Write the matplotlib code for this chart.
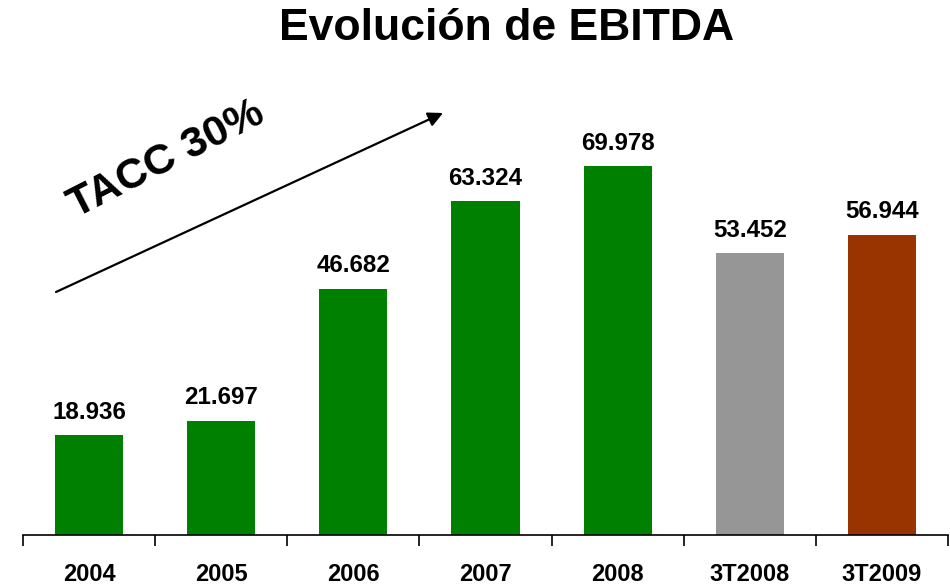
import matplotlib
matplotlib.use("Agg")
import matplotlib.pyplot as plt
import numpy as np

categories = ["2004", "2005", "2006", "2007", "2008", "3T2008", "3T2009"]
values = [18.936, 21.697, 46.682, 63.324, 69.978, 53.452, 56.944]
labels = ["18.936", "21.697", "46.682", "63.324", "69.978", "53.452", "56.944"]
colors = ["#008000"] * 5 + ["#969696", "#993300"]

plt.rcParams['font.family'] = ['Liberation Sans', 'DejaVu Sans']

W, H = 950, 586
fig = plt.figure(figsize=(W / 100, H / 100), dpi=100)
ax_left, ax_right = 23, 948
ax_bottom = 535
ymax = 80.0
px_per_unit = 5.27
ax_top = ax_bottom - ymax * px_per_unit
ax = fig.add_axes([ax_left / W, 1 - ax_bottom / H, (ax_right - ax_left) / W, (ax_bottom - ax_top) / H])

x = np.arange(len(categories))
ax.bar(x, values, width=0.515, color=colors, zorder=2)
ax.set_xlim(-0.5, len(categories) - 0.5)
ax.set_ylim(0, ymax)

for xi, v, lab in zip(x, values, labels):
    ax.annotate(lab, (xi, v), xytext=(0, 11.9), textcoords="offset points",
                ha="center", va="baseline", fontsize=17.4, fontweight="bold")

for s in ["top", "right", "left"]:
    ax.spines[s].set_visible(False)
ax.spines["bottom"].set_linewidth(1.2)
ax.set_yticks([])
ax.set_xticks(x)
ax.set_xticklabels(categories, fontsize=17, fontweight="bold")
ax.tick_params(axis="x", which="major", length=0, pad=20)
ax.set_xticks(np.arange(-0.5, len(categories)), minor=True)
ax.tick_params(axis="x", which="minor", length=8, width=1.2, direction="out")

fig.text(507 / W, 1 - 29 / H, "Evolución de EBITDA", ha="center", va="center",
         fontsize=32, fontweight="bold")

fig.text(166 / W, 1 - 160 / H, "TACC 30%", ha="center", va="center", rotation=27,
         rotation_mode="anchor", fontsize=31, fontweight="bold")

ax.annotate("", xy=(443 / W, 1 - 113 / H), xytext=(56 / W, 1 - 292 / H),
            xycoords="figure fraction", textcoords="figure fraction",
            arrowprops=dict(arrowstyle="-|>", color="black", lw=1.6,
                            mutation_scale=22, shrinkA=0, shrinkB=0))

fig.savefig("out.png", dpi=100, facecolor="white")
